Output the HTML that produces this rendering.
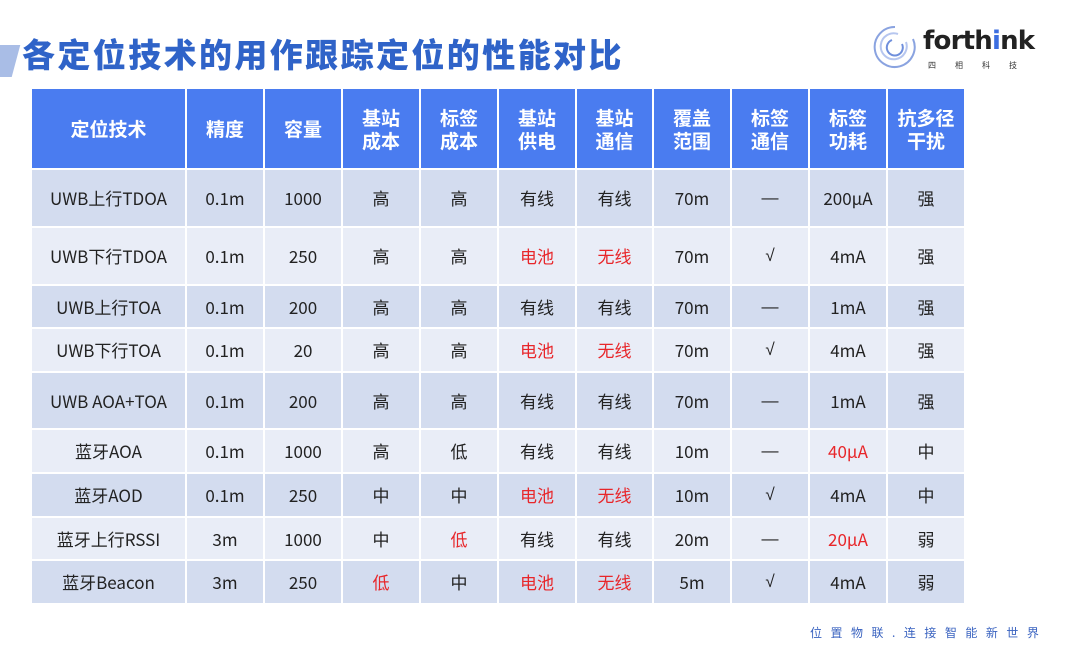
<!DOCTYPE html>
<html><head><meta charset="utf-8"><style>
body{margin:0;width:1080px;height:650px;background:#fff;position:relative;overflow:hidden;font-family:"Noto Sans CJK SC",sans-serif}
.t{position:absolute;left:22px;top:28px;font-size:33px;font-weight:900;color:#2f63c8;letter-spacing:2.4px;font-family:"Noto Sans CJK SC",sans-serif;line-height:50px}
.bar{position:absolute;left:-10px;top:45px;width:26px;height:32px;background:#a9bde6;transform:skewX(-15deg)}
table{position:absolute;left:30px;top:87px;border-collapse:collapse;table-layout:fixed}
td{border:2px solid #fff;text-align:center;font-size:17px;color:#222;padding:0;font-family:"Noto Sans CJK SC",sans-serif;line-height:20px}
td.s{font-family:"Liberation Sans",sans-serif}
th{border:2px solid #fff;background:#4a7cf0;color:#fff;font-size:19px;font-weight:bold;line-height:23px;font-family:"Noto Sans CJK SC",sans-serif;height:79px;padding:0}
tr.d td{background:#d3dcef}tr.l td{background:#e9edf7}
.r{color:#e8262a}
.logo{position:absolute;left:870px;top:22px}
.ft{position:absolute;left:810px;top:624px;font-size:12px;color:#3a63c0;letter-spacing:8.5px;font-family:"Noto Sans CJK SC",sans-serif}
</style></head><body>
<div class="bar"></div>
<div class="t">各定位技术的用作跟踪定位的性能对比</div>
<div class="logo">
<svg width="50" height="50" viewBox="0 0 50 50"><g fill="none" stroke="#8aa3e0" stroke-width="2"><path d="M25 5a20 20 0 1 0 18 12"/><path d="M28 12a13 13 0 1 0 8 8" stroke="#b6c6ef"/><path d="M22 18a8 8 0 1 0 10 4" stroke="#6f8fdc"/></g></svg>
<div style="position:absolute;left:53px;top:4px;font-size:26px;font-weight:bold;color:#222;font-family:'DejaVu Sans',sans-serif;letter-spacing:-0.8px">forth<span style="color:#3c6ee0">i</span>nk</div>
<div style="position:absolute;left:58px;top:38px;font-size:8px;color:#333;letter-spacing:19px;white-space:nowrap">四相科技</div>
</div>
<table>
<colgroup><col style="width:155px"><col style="width:78px"><col style="width:78px"><col style="width:78px"><col style="width:78px"><col style="width:78px"><col style="width:77px"><col style="width:78px"><col style="width:78px"><col style="width:78px"><col style="width:78px"></colgroup>
<tr><th>定位技术</th><th>精度</th><th>容量</th><th>基站<br>成本</th><th>标签<br>成本</th><th>基站<br>供电</th><th>基站<br>通信</th><th>覆盖<br>范围</th><th>标签<br>通信</th><th>标签<br>功耗</th><th>抗多径<br>干扰</th></tr>
<tr class="d" style="height:58px"><td>UWB上行TDOA</td><td>0.1m</td><td>1000</td><td>高</td><td>高</td><td>有线</td><td>有线</td><td>70m</td><td class="s">—</td><td>200μA</td><td>强</td></tr>
<tr class="l" style="height:58px"><td>UWB下行TDOA</td><td>0.1m</td><td>250</td><td>高</td><td>高</td><td class="r">电池</td><td class="r">无线</td><td>70m</td><td class="s">√</td><td>4mA</td><td>强</td></tr>
<tr class="d" style="height:43px"><td>UWB上行TOA</td><td>0.1m</td><td>200</td><td>高</td><td>高</td><td>有线</td><td>有线</td><td>70m</td><td class="s">—</td><td>1mA</td><td>强</td></tr>
<tr class="l" style="height:44px"><td>UWB下行TOA</td><td>0.1m</td><td>20</td><td>高</td><td>高</td><td class="r">电池</td><td class="r">无线</td><td>70m</td><td class="s">√</td><td>4mA</td><td>强</td></tr>
<tr class="d" style="height:57px"><td>UWB AOA+TOA</td><td>0.1m</td><td>200</td><td>高</td><td>高</td><td>有线</td><td>有线</td><td>70m</td><td class="s">—</td><td>1mA</td><td>强</td></tr>
<tr class="l" style="height:44px"><td>蓝牙AOA</td><td>0.1m</td><td>1000</td><td>高</td><td>低</td><td>有线</td><td>有线</td><td>10m</td><td class="s">—</td><td class="r">40μA</td><td>中</td></tr>
<tr class="d" style="height:44px"><td>蓝牙AOD</td><td>0.1m</td><td>250</td><td>中</td><td>中</td><td class="r">电池</td><td class="r">无线</td><td>10m</td><td class="s">√</td><td>4mA</td><td>中</td></tr>
<tr class="l" style="height:43px"><td>蓝牙上行RSSI</td><td>3m</td><td>1000</td><td>中</td><td class="r">低</td><td>有线</td><td>有线</td><td>20m</td><td class="s">—</td><td class="r">20μA</td><td>弱</td></tr>
<tr class="d" style="height:44px"><td>蓝牙Beacon</td><td>3m</td><td>250</td><td class="r">低</td><td>中</td><td class="r">电池</td><td class="r">无线</td><td>5m</td><td class="s">√</td><td>4mA</td><td>弱</td></tr>
</table>
<div class="ft">位置物联.连接智能新世界</div>
</body></html>
